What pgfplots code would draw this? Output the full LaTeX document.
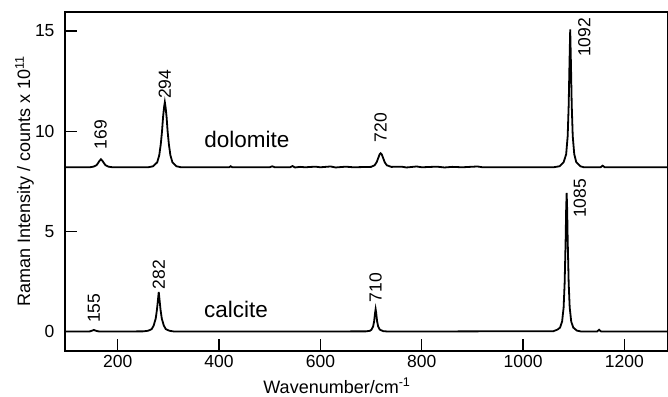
\documentclass[border=0pt]{standalone}
\usepackage{fontspec}
\setmainfont{Liberation Sans}
\usepackage{pgfplots}
\pgfplotsset{compat=1.18}
\begin{document}
\begin{tikzpicture}
\begin{axis}[
  scale only axis,
  width=603pt, height=339pt,
  xmin=96, xmax=1286, ymin=-0.97, ymax=15.95,
  axis line style={line width=1.8pt},
  xtick={200,400,...,1200}, ytick={0,5,10,15},
  tick align=inside, tick pos=left,
  major tick length=12pt,
  every tick/.style={black, line width=1.3pt},
  /pgf/number format/assume math mode=true,
  /pgf/number format/1000 sep={},
  ticklabel style={font=\fontsize{17.5}{20}\selectfont},
  xticklabel style={yshift=-1pt},
  yticklabel style={xshift=-7pt},
  xlabel={Wavenumber/cm\textsuperscript{-1}},
  ylabel={Raman Intensity / counts x 10\textsuperscript{11}},
  label style={font=\fontsize{18}{20}\selectfont},
  xlabel style={at={(axis description cs:0.451,-0.124)}, anchor=base},
  ylabel style={at={(axis description cs:-0.067,0.5)}, anchor=center},
  clip=true,
]
% calcite
\addplot[black, line width=1.8pt] coordinates {
(96,0) (140,0) (145,0.01) (149,0.04) (153,0.08) (157,0.04) (162,0.01) (170,0)
(250,0.01) (260,0.04) (267,0.12) (271,0.3) (275,0.65) (277.5,1.1) (279.5,1.6) (281,1.98) (282.5,1.6) (284.5,1.1) (287,0.65) (291,0.3) (295,0.12) (302,0.04) (312,0)
(500,0) (690,0.01) (698,0.04) (701,0.1) (704,0.25) (706,0.5) (708,0.95) (709,1.12) (710,0.95) (712,0.5) (714,0.25) (717,0.1) (724,0.02) (735,0)
(1060,0.02) (1068,0.1) (1073,0.2) (1077,0.5) (1080,1.2) (1082,2.4) (1084,4.6) (1085,6.1) (1086,6.92) (1087,6.1) (1088,4.6) (1090,2.4) (1092,1.2) (1095,0.5) (1099,0.2) (1106,0.05) (1115,0)
(1146,0) (1150,0.09) (1154,0) (1286,0)
};
% dolomite
\addplot[black, line width=1.8pt] coordinates {
(96,8.2) (145,8.2) (152,8.23) (158,8.3) (161,8.4) (164,8.52) (167,8.6) (170,8.52) (173,8.4) (176,8.3) (182,8.23) (190,8.2)
(260,8.2) (270,8.25) (278,8.45) (282,8.8) (285,9.35) (287.5,10.0) (289.5,10.7) (291.5,11.2) (293,11.45) (294.5,11.2) (296.5,10.7) (298.5,10.0) (301,9.35) (304,8.8) (308,8.45) (316,8.25) (325,8.2)
(420,8.2) (423,8.25) (426,8.2) (500,8.2) (505,8.25) (510,8.2) (540,8.2) (545,8.26) (550,8.19) (560,8.22) (570,8.2) (590,8.23) (600,8.2) (620,8.24) (630,8.19) (650,8.23) (665,8.2)
(700,8.22) (707,8.3) (711,8.45) (714,8.65) (717,8.85) (719,8.9) (721,8.85) (724,8.65) (727,8.45) (731,8.3) (740,8.22)
(760,8.23) (770,8.19) (790,8.24) (800,8.2) (830,8.23) (845,8.19) (860,8.22) (880,8.2) (910,8.24) (920,8.2)
(1060,8.2) (1072,8.25) (1080,8.45) (1085,8.85) (1088,9.75) (1090,11.3) (1091.5,13.3) (1093,15.08) (1094.5,13.3) (1096,11.3) (1098,9.75) (1101,8.85) (1105,8.45) (1113,8.25) (1120,8.2)
(1153,8.2) (1157,8.28) (1161,8.2) (1286,8.2)
};
\begin{scope}[every node/.style={font=\fontsize{17.5}{20}\selectfont, rotate=90, inner sep=0pt, anchor=west}]
\node at (axis cs:153,0.43) {155};
\node at (axis cs:281,2.1) {282};
\node at (axis cs:709,1.45) {710};
\node at (axis cs:1112,5.67) {1085};
\node at (axis cs:166.5,9.08) {169};
\node at (axis cs:293,11.6) {294};
\node at (axis cs:719,9.45) {720};
\node at (axis cs:1121,13.7) {1092};
\end{scope}
\node[font=\fontsize{22.5}{25}\selectfont, anchor=base] at (axis cs:455,9.17) {dolomite};
\node[font=\fontsize{22.5}{25}\selectfont, anchor=base] at (axis cs:433.5,0.69) {calcite};
\end{axis}
\pgfresetboundingbox
\path[use as bounding box] ([xshift=-65pt,yshift=-45pt]current axis.south west) rectangle ([yshift=12pt]current axis.north east);
\end{tikzpicture}
\end{document}
